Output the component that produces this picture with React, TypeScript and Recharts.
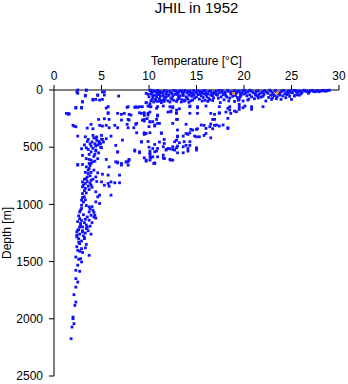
import React from 'react';
import { ScatterChart, Scatter, XAxis, YAxis, Label } from 'recharts';

// each observation is [temperature °C, depth m]
type Obs = [number, number];

const temperatureTicks = [0, 5, 10, 15, 20, 25, 30];
const depthTicks = [0, 500, 1000, 1500, 2000, 2500];

// warm mixed layer, 0 - ~130 m
const surfaceBand: Obs[] = [
  [10.1, 5], [10.3, 15], [10.5, 8], [10.8, 20], [11.0, 10], [11.3, 25], [11.6, 5], [11.9, 18], [12.2, 12], [12.4, 30],
  [10.2, 35], [10.6, 45], [10.9, 40], [11.2, 55], [11.5, 48], [11.8, 60], [12.1, 42], [10.0, 60], [10.4, 70], [10.7, 80],
  [11.1, 75], [11.4, 90], [11.7, 85], [12.0, 95], [10.2, 95], [10.5, 105], [10.9, 100], [11.3, 110], [10.1, 120], [12.3, 70],
  [12.5, 55], [10.3, 25], [11.0, 30], [11.8, 35], [9.7, 29], [9.9, 38], [9.7, 111],
  [12.8, 8], [13.1, 20], [13.4, 5], [13.7, 15], [14.0, 25], [14.3, 10], [14.6, 30], [14.9, 18], [13.0, 40], [13.3, 50],
  [13.6, 35], [13.9, 60], [14.2, 45], [14.5, 55], [14.8, 70], [13.2, 75], [13.5, 85], [13.8, 90], [14.1, 80], [12.9, 100],
  [13.4, 105], [14.4, 95],
  [15.1, 5], [15.4, 15], [15.7, 8], [16.0, 22], [16.3, 12], [16.6, 30], [16.9, 18], [15.2, 40], [15.5, 50], [15.8, 35],
  [16.1, 60], [16.5, 45], [16.8, 70], [15.3, 80], [15.9, 90], [16.4, 85],
  [17.1, 10], [17.4, 25], [17.7, 5], [18.0, 20], [18.3, 12], [18.6, 35], [18.9, 15], [19.2, 28], [19.5, 8], [19.8, 22],
  [17.2, 45], [17.6, 60], [18.1, 50], [18.5, 70], [18.8, 55], [19.3, 65], [19.7, 45], [17.9, 85], [18.4, 95], [19.0, 100],
  [17.5, 110], [19.4, 90],
  [10.2, 2], [10.6, 12], [10.9, 3], [11.2, 14], [11.5, 22], [11.9, 8], [12.3, 20], [12.6, 4], [12.9, 26], [13.2, 10],
  [13.5, 22], [13.8, 4], [14.1, 14], [14.4, 24], [14.7, 6], [15.0, 28], [15.3, 10], [15.6, 24], [15.9, 4], [16.2, 34],
  [16.5, 8], [16.8, 26], [17.1, 40], [17.4, 4], [17.7, 20], [18.0, 35], [18.3, 3], [18.6, 18], [19.0, 6], [19.3, 14],
  [19.6, 30], [19.9, 4],
  [10.4, 50], [10.8, 62], [11.1, 40], [11.6, 68], [12.0, 50], [12.4, 80], [12.7, 38], [13.1, 62], [13.6, 48], [14.0, 70],
  [14.3, 35], [14.7, 45], [15.0, 60], [15.4, 30], [15.7, 65], [16.0, 42], [16.3, 75], [16.7, 50], [17.0, 30], [17.3, 72],
  [17.8, 40], [18.2, 62], [18.7, 30], [19.1, 48], [19.6, 58], [10.3, 85], [10.7, 92], [11.2, 98], [11.6, 100], [12.2, 105],
  [12.6, 90], [13.0, 85], [13.7, 98], [14.2, 108], [14.6, 88], [15.6, 96], [16.2, 100], [16.7, 92],
  [20.1, 5], [20.4, 15], [20.7, 8], [21.0, 25], [21.3, 12], [21.6, 35], [21.9, 18], [22.2, 5], [22.5, 28], [22.8, 10],
  [23.1, 40], [23.4, 15], [23.7, 25], [24.0, 8], [24.3, 32], [24.6, 12], [24.9, 20], [20.3, 50], [20.8, 60], [21.2, 45],
  [22.0, 55], [22.6, 65], [23.2, 50], [23.8, 45], [24.5, 40], [21.5, 70], [20.5, 80],
  [20.2, 25], [20.6, 2], [20.9, 16], [21.2, 30], [21.5, 6], [21.8, 26], [22.1, 12], [22.4, 18], [22.7, 2], [23.0, 22],
  [23.3, 6], [23.6, 32], [23.9, 18], [24.2, 4], [24.5, 22], [24.8, 6], [25.1, 25], [25.4, 4], [25.7, 20], [26.0, 12],
  [26.3, 2], [26.6, 8], [26.9, 15], [27.2, 3], [27.5, 16], [27.8, 5], [28.1, 10], [28.4, 3], [28.7, 8], [29.0, 2],
  [20.0, 35], [20.6, 42], [21.4, 50], [22.1, 38], [22.8, 45], [23.5, 58], [24.1, 52], [24.7, 30], [21.8, 62], [23.0, 68],
  [19.5, 82], [19.9, 96], [20.4, 88], [21.1, 76], [21.5, 53], [22.3, 96], [22.9, 82], [23.4, 76], [23.9, 82], [24.4, 67],
  [25.0, 82], [25.3, 53], [25.8, 46], [19.5, 125], [20.1, 140], [20.8, 169], [22.0, 146], [20.8, 146],
  [25.2, 5], [25.5, 15], [25.8, 8], [26.1, 22], [26.4, 10], [26.7, 18], [27.0, 5], [27.3, 12], [27.6, 8], [27.9, 15],
  [28.2, 5], [28.5, 10], [28.8, 3], [26.0, 35], [25.6, 40], [26.8, 28], [24.8, 55], [25.4, 45],
];

// thermocline, ~130 - 650 m, 7 - 20 °C
const thermocline: Obs[] = [
  [9.9, 140], [10.2, 146], [10.9, 146], [11.5, 140], [12.2, 146], [12.5, 155], [13.2, 164], [14.3, 146], [15.1, 155],
  [9.5, 199], [10.1, 193], [10.9, 228], [12.0, 193], [12.3, 184], [12.9, 199], [12.9, 175], [15.1, 204], [16.5, 204],
  [16.9, 213], [17.4, 199], [16.9, 257], [18.1, 193], [18.5, 175], [19.0, 184], [19.5, 169], [19.9, 155],
  [9.5, 271], [10.1, 280], [10.8, 257], [10.6, 315], [13.0, 257], [13.9, 300], [15.1, 339], [15.8, 309], [16.4, 321],
  [16.9, 309], [17.4, 315], [18.3, 330], [16.7, 339], [14.3, 374], [15.0, 344], [14.8, 403], [15.3, 409], [15.8, 397],
  [16.5, 418], [13.0, 403], [13.6, 403], [14.1, 388], [9.5, 388], [11.3, 374], [11.6, 432], [11.1, 455], [12.9, 438],
  [13.2, 461], [13.9, 484], [14.3, 484], [15.0, 505], [10.6, 476], [10.8, 534], [12.2, 514], [12.5, 520], [12.9, 505],
  [11.8, 520], [13.0, 549], [13.6, 549], [14.1, 534], [10.1, 563], [10.2, 593], [10.9, 584], [11.5, 593], [12.2, 607],
  [10.6, 637], [9.7, 622], [9.5, 593],
  [9.0, 146], [10.1, 146], [10.8, 160], [9.2, 204], [9.9, 219], [10.9, 219], [9.3, 263], [10.1, 277], [12.5, 146],
  [12.3, 190], [12.9, 204], [14.3, 140], [15.1, 146], [17.4, 204], [16.7, 257], [18.3, 160], [18.6, 204], [19.2, 190],
  [19.5, 146], [18.5, 146], [17.4, 146], [16.0, 140], [16.5, 298], [17.1, 306], [17.8, 306], [18.3, 336], [16.0, 336],
  [15.5, 306], [14.4, 344], [15.0, 409], [16.0, 380], [13.0, 409], [14.3, 452], [13.6, 496], [13.0, 490], [12.5, 496],
  [12.0, 511], [11.5, 496], [10.9, 511], [10.4, 511], [15.0, 511], [14.1, 511], [11.6, 467], [9.2, 452], [9.5, 380],
  [11.3, 380], [11.1, 292], [10.6, 306], [9.0, 540], [10.6, 540], [10.1, 584], [9.7, 613], [11.6, 598], [12.3, 613],
  [10.6, 642], [12.9, 257], [18.3, 248], [14.3, 204],
  [7.8, 146], [8.6, 146], [9.3, 146], [7.4, 204], [8.1, 219], [9.9, 204], [7.8, 257], [8.6, 300], [10.4, 277], [10.9, 292],
  [9.7, 380], [12.5, 292], [13.0, 350], [13.9, 380], [14.6, 350], [13.7, 452], [12.7, 452], [8.5, 525], [6.7, 540],
  [6.5, 628], [7.8, 628],
  [10.1, 555], [10.4, 584], [10.1, 613], [11.5, 569], [11.6, 598], [12.5, 613], [10.5, 642], [11.8, 525], [12.7, 525],
  [15.0, 525], [9.8, 250], [10.0, 320], [9.9, 450], [10.0, 500],
];

// cold branch near 2 - 7 °C, surface down to ~1300 m
const coldBranch: Obs[] = [
  [2.4, 18], [3.4, 3], [3.3, 46], [4.6, 46], [5.1, 18], [5.1, 82], [4.4, 82], [4.1, 82], [3.0, 105], [2.3, 158],
  [2.9, 158], [5.5, 158], [6.8, 53], [7.7, 152], [8.5, 152], [8.8, 152], [9.7, 111], [5.7, 199], [6.7, 204], [7.1, 213],
  [7.9, 213], [9.0, 199], [9.5, 222], [1.5, 207], [1.6, 210], [1.3, 204], [5.3, 251], [4.7, 257], [5.8, 257], [7.1, 263],
  [7.9, 263], [8.7, 292], [9.5, 257], [2.0, 309], [2.3, 321], [2.1, 315], [3.5, 333], [3.9, 300], [4.1, 339], [4.8, 309],
  [5.1, 315], [5.5, 309], [5.8, 330], [6.4, 309], [6.7, 330], [7.7, 300], [7.8, 330], [8.4, 330], [8.7, 374], [9.5, 374],
  [10.1, 374], [2.5, 403], [3.3, 409], [3.6, 432], [4.1, 397], [4.4, 418], [5.0, 397], [5.1, 432], [5.5, 426], [6.0, 403],
  [7.2, 438], [9.2, 455], [4.8, 467], [4.4, 490], [3.9, 490], [3.4, 505], [2.9, 514], [5.0, 505], [6.5, 484], [6.7, 543],
  [8.5, 534], [9.0, 549], [10.1, 534], [3.0, 572], [3.7, 563], [4.3, 563], [4.4, 534], [5.5, 607], [6.7, 630], [7.1, 642],
  [7.6, 630], [7.9, 607], [3.7, 607], [3.9, 642], [3.0, 651], [2.5, 651], [4.3, 622],
  [4.2, 420], [4.5, 440], [4.8, 460], [4.3, 470], [4.6, 480], [4.9, 500], [4.1, 510], [4.4, 525], [4.7, 450], [5.0, 430],
  [4.0, 455], [4.5, 410],
  [3.5, 450], [3.8, 470], [3.2, 480], [4.9, 470], [5.2, 455], [3.6, 520], [3.9, 540], [4.7, 550], [4.2, 580], [3.4, 600],
  [4.6, 600], [3.8, 660], [4.2, 700], [3.9, 720], [4.4, 760], [4.1, 780], [4.5, 800], [3.7, 870],
  [2.5, 0], [3.4, 0], [2.5, 29], [3.3, 53], [4.6, 44], [5.3, 15], [5.3, 44], [3.0, 102], [4.1, 88], [4.8, 88], [2.3, 152],
  [2.9, 152], [5.7, 146], [1.5, 210], [5.7, 204], [5.8, 672],
  [2.5, 657], [3.4, 672], [3.7, 642], [3.9, 613], [4.1, 628], [3.7, 686], [6.7, 637], [7.1, 657], [7.6, 628], [7.9, 613],
  [7.8, 657], [3.6, 730], [3.4, 774], [3.0, 803], [3.3, 817], [3.9, 832], [3.0, 846], [4.6, 724], [5.1, 736], [5.7, 744],
  [6.9, 744], [5.0, 803], [5.3, 832], [5.7, 817], [6.0, 803], [5.8, 841], [6.4, 811], [6.9, 811],
  [3.2, 780], [3.5, 800], [3.8, 815], [3.1, 830], [3.6, 840], [3.3, 860], [3.9, 790], [4.0, 850],
  [3.6, 700], [3.3, 720], [3.8, 750], [3.5, 760], [3.2, 880], [3.4, 900], [3.0, 940], [3.1, 980], [3.3, 960],
  [3.0, 905], [3.2, 934], [2.9, 963], [4.4, 890], [4.8, 919], [4.6, 934], [4.4, 978], [4.8, 992], [6.0, 919], [2.9, 1007],
  [2.9, 1036], [2.7, 1066], [3.7, 1022], [3.7, 1066], [4.1, 1051], [3.9, 1095], [4.3, 1095], [3.7, 1138], [2.7, 1124],
  [2.8, 1167], [3.0, 1197], [2.7, 1197], [2.5, 1226], [3.4, 1211], [3.0, 1241], [2.4, 1270], [3.2, 1290],
  [2.5, 1150], [2.8, 1180], [3.2, 1160], [3.5, 1200], [2.6, 1220], [3.0, 1230], [3.3, 1250], [2.7, 1260], [3.1, 1275],
  [2.4, 1240], [3.4, 1180], [2.9, 1140], [3.6, 1230], [2.6, 1300],
  [3.4, 1010], [3.8, 1040], [4.2, 1070], [4.0, 1020], [3.5, 1110], [4.4, 1120], [3.1, 1090], [2.8, 1050], [3.3, 1130],
  [4.0, 1160], [3.9, 1260], [3.8, 1190], [4.2, 1110], [2.6, 1100],
];

// deep water below ~1280 m
const deepTail: Obs[] = [
  [2.4, 1284], [3.2, 1299], [2.7, 1343], [2.9, 1387], [2.5, 1401], [3.7, 1445], [2.3, 1460], [2.8, 1474], [2.9, 1503],
  [2.5, 1532], [2.3, 1576], [2.7, 1585], [2.3, 1649], [2.5, 1679], [2.3, 1723], [2.1, 1789], [2.3, 1854], [2.2, 1883],
  [2.0, 1985], [2.0, 1999], [2.1, 2043], [1.9, 2072], [1.8, 2174], [2.6, 1330], [2.4, 1370], [3.0, 1420], [2.6, 1480],
  [2.9, 1320], [3.4, 1350], [2.7, 1410], [3.3, 1380],
];

// the two observations drawn in orange
const flagged: Obs[] = [[18.9, 30], [23.5, 25]];

const toPoints = (obs: Obs[]) => obs.map(([t, d]) => ({ t, d }));

const blueData = toPoints([...surfaceBand, ...thermocline, ...coldBranch, ...deepTail]);
const orangeData = toPoints(flagged);

const FONT = '"Liberation Sans", Arial, Helvetica, sans-serif';

function Square(props: any) {
  const { cx, cy, fill } = props;
  if (cx == null || cy == null) return null;
  return <rect x={cx - 1.4} y={cy - 1.4} width={2.8} height={2.8} fill={fill} />;
}

export default function App() {
  return (
    <div style={{ position: 'absolute', left: 0, top: 0, width: 348, height: 384, background: '#fff', fontFamily: FONT }}>
      <div
        style={{
          position: 'absolute',
          left: 54,
          width: 285,
          top: -1,
          textAlign: 'center',
          fontSize: 15,
          color: '#000',
        }}
      >
        JHIL in 1952
      </div>
      <ScatterChart width={348} height={384} margin={{ top: 55, right: 9, bottom: 8, left: 0 }} style={{ fontFamily: FONT }}>
        <XAxis
          dataKey="t"
          type="number"
          orientation="top"
          domain={[0, 30]}
          ticks={temperatureTicks}
          height={35}
          tickSize={5}
          tickMargin={5}
          stroke="#000"
          tick={{ fill: '#000', fontSize: 12 }}
        >
          <Label value="Temperature [°C]" position="top" offset={-10} fill="#000" fontSize={12} />
        </XAxis>
        <YAxis
          dataKey="d"
          type="number"
          reversed
          domain={[0, 2500]}
          ticks={depthTicks}
          width={54}
          tickSize={5}
          tickMargin={6}
          stroke="#000"
          tick={{ fill: '#000', fontSize: 12 }}
        >
          <Label value="Depth [m]" angle={-90} position="insideLeft" offset={7} fill="#000" fontSize={12} style={{ textAnchor: 'middle' }} />
        </YAxis>
        <Scatter data={blueData} fill="#1010ff" shape={<Square />} isAnimationActive={false} />
        <Scatter data={orangeData} fill="#ff9a1a" shape={<Square />} isAnimationActive={false} />
      </ScatterChart>
    </div>
  );
}
